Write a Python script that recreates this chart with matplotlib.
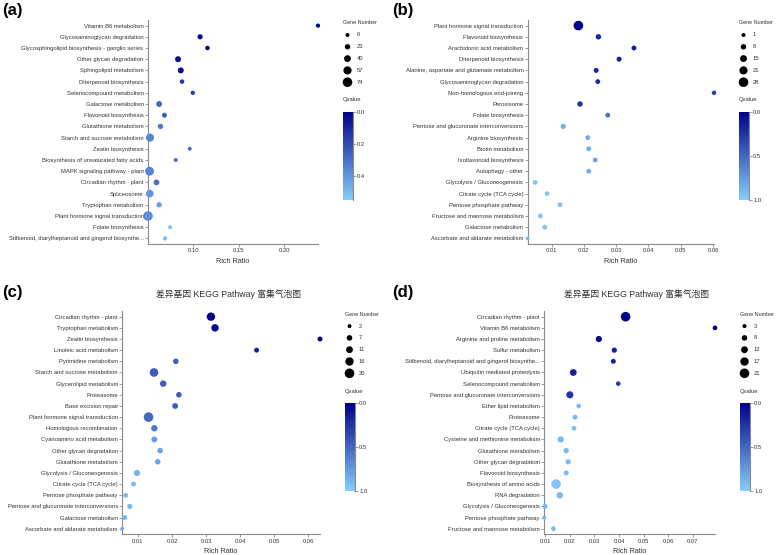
import numpy as np
import matplotlib
matplotlib.use("Agg")
from matplotlib import pyplot as plt
from matplotlib.colors import LinearSegmentedColormap, Normalize
from matplotlib.ticker import MultipleLocator, FormatStrFormatter

plt.rcParams['font.family'] = ['Liberation Sans', 'Noto Sans CJK SC', 'DejaVu Sans']

# ---------------- (a) ----------------
terms_a = ["Vitamin B6 metabolism", "Glycosaminoglycan degradation",
           "Glycosphingolipid biosynthesis - ganglio series", "Other glycan degradation",
           "Sphingolipid metabolism", "Diterpenoid biosynthesis", "Selenocompound metabolism",
           "Galactose metabolism", "Flavonoid biosynthesis", "Glutathione metabolism",
           "Starch and sucrose metabolism", "Zeatin biosynthesis",
           "Biosynthesis of unsaturated fatty acids", "MAPK signaling pathway - plant",
           "Circadian rhythm - plant", "Spliceosome", "Tryptophan metabolism",
           "Plant hormone signal transduction", "Folate biosynthesis",
           "Stilbenoid, diarylheptanoid and gingerol biosynthe..."]
rich_a = [0.237, 0.1075, 0.1156, 0.0833, 0.0863, 0.0877, 0.0995, 0.0625, 0.0683, 0.064,
          0.0525, 0.0962, 0.0808, 0.052, 0.0596, 0.0523, 0.0625, 0.0503, 0.0745, 0.069]
genes_a = [8, 20, 12, 30, 30, 12, 10, 30, 18, 22, 55, 6, 7, 65, 28, 50, 22, 74, 7, 10]
qval_a = [0.0, 0.02, 0.02, 0.03, 0.03, 0.15, 0.15, 0.28, 0.25, 0.32,
          0.35, 0.3, 0.3, 0.35, 0.3, 0.4, 0.42, 0.38, 0.52, 0.52]
legend_a = [6, 23, 40, 57, 74]

# ---------------- (b) ----------------
terms_b = ["Plant hormone signal transduction", "Flavonoid biosynthesis",
           "Arachidonic acid metabolism", "Diterpenoid biosynthesis",
           "Alanine, aspartate and glutamate metabolism", "Glycosaminoglycan degradation",
           "Non-homologous end-joining", "Peroxisome", "Folate biosynthesis",
           "Pentose and glucuronate interconversions", "Arginine biosynthesis",
           "Biotin metabolism", "Isoflavonoid biosynthesis", "Autophagy - other",
           "Glycolysis / Gluconeogenesis", "Citrate cycle (TCA cycle)",
           "Pentose phosphate pathway", "Fructose and mannose metabolism",
           "Galactose metabolism", "Ascorbate and aldarate metabolism"]
rich_b = [0.0183, 0.0245, 0.0355, 0.0309, 0.0238, 0.0243, 0.0603, 0.0188, 0.0274, 0.0136,
          0.0212, 0.0215, 0.0235, 0.0215, 0.0049, 0.0086, 0.0126, 0.0065, 0.0079, 0.0026]
genes_b = [28, 8, 5, 6, 6, 5, 3, 8, 5, 7, 5, 5, 5, 5, 5, 4, 5, 5, 5, 1]
qval_b = [0.0, 0.2, 0.15, 0.15, 0.2, 0.2, 0.3, 0.25, 0.55, 0.85,
          0.85, 0.85, 0.8, 0.85, 0.95, 0.95, 0.95, 0.95, 0.95, 0.9]
legend_b = [1, 8, 15, 21, 28]

# ---------------- (c) ----------------
terms_c = ["Circadian rhythm - plant", "Tryptophan metabolism", "Zeatin biosynthesis",
           "Linoleic acid metabolism", "Pyrimidine metabolism", "Starch and sucrose metabolism",
           "Glycerolipid metabolism", "Proteasome", "Base excision repair",
           "Plant hormone signal transduction", "Homologous recombination",
           "Cyanoamino acid metabolism", "Other glycan degradation", "Glutathione metabolism",
           "Glycolysis / Gluconeogenesis", "Citrate cycle (TCA cycle)",
           "Pentose phosphate pathway", "Pentose and glucuronate interconversions",
           "Galactose metabolism", "Ascorbate and aldarate metabolism"]
rich_c = [0.0314, 0.0326, 0.0634, 0.0448, 0.0211, 0.0147, 0.0174, 0.022, 0.0209, 0.0131,
          0.0148, 0.0148, 0.0165, 0.0158, 0.0097, 0.0087, 0.0064, 0.0076, 0.0061, 0.0054]
genes_c = [16, 13, 5, 5, 7, 17, 10, 7, 8, 20, 10, 8, 7, 7, 9, 5, 5, 6, 5, 2]
qval_c = [0.02, 0.03, 0.02, 0.15, 0.45, 0.45, 0.45, 0.45, 0.45, 0.5,
          0.6, 0.75, 0.8, 0.8, 0.85, 0.9, 0.9, 0.9, 0.9, 0.85]
legend_c = [2, 7, 11, 16, 20]

# ---------------- (d) ----------------
terms_d = ["Circadian rhythm - plant", "Vitamin B6 metabolism", "Arginine and proline metabolism",
           "Sulfur metabolism", "Stilbenoid, diarylheptanoid and gingerol biosynthe...",
           "Ubiquitin mediated proteolysis", "Selenocompound metabolism",
           "Pentose and glucuronate interconversions", "Ether lipid metabolism", "Proteasome",
           "Citrate cycle (TCA cycle)", "Cysteine and methionine metabolism",
           "Glutathione metabolism", "Other glycan degradation", "Flavonoid biosynthesis",
           "Biosynthesis of amino acids", "RNA degradation", "Glycolysis / Gluconeogenesis",
           "Pentose phosphate pathway", "Fructose and mannose metabolism"]
rich_d = [0.0427, 0.0791, 0.0318, 0.0381, 0.0377, 0.0214, 0.0397, 0.020, 0.0236, 0.0221,
          0.0217, 0.0163, 0.0185, 0.0193, 0.0185, 0.0144, 0.0159, 0.0099, 0.0096, 0.0133]
genes_d = [21, 5, 10, 7, 6, 12, 5, 13, 5, 6, 5, 10, 7, 7, 6, 21, 11, 7, 3, 5]
qval_d = [0.0, 0.0, 0.03, 0.15, 0.15, 0.15, 0.3, 0.25, 0.9, 0.9,
          0.9, 0.9, 0.9, 0.9, 0.9, 0.95, 0.9, 0.9, 0.9, 0.9]
legend_d = [3, 8, 12, 17, 21]

title_cd = "差异基因 KEGG Pathway 富集气泡图"

W, H = 777, 555
cmap = LinearSegmentedColormap.from_list("q", ["#00008b", "#87cefa"])
GRAY = "#8a8a8a"
TXT = "#333333"

fig = plt.figure(figsize=(W / 100, H / 100), dpi=100)


def sizes(vals, lo, hi):
    r = 2.0 + 2.8 * (np.asarray(vals, float) - lo) / (hi - lo)
    return (2 * r * 0.72) ** 2


def panel(px, terms, rich, genes, qval, leg, qmax, qticks, step, label, lx, title=None):
    left, top, right, bottom = px
    ax = fig.add_axes([left / W, 1 - bottom / H, (right - left) / W, (bottom - top) / H])
    y = np.arange(len(terms))
    ax.scatter(rich, y, s=sizes(genes, min(leg), max(leg)), c=qval, cmap=cmap,
               norm=Normalize(0, qmax), linewidths=0, zorder=3, clip_on=False)
    ax.set_xlim(min(rich), max(rich))
    ax.set_ylim(len(terms) - 0.5, -0.5)
    ax.set_yticks(y)
    ax.set_yticklabels(terms)
    ax.xaxis.set_major_locator(MultipleLocator(step))
    ax.xaxis.set_major_formatter(FormatStrFormatter('%.2f'))
    for s in ['top', 'right']:
        ax.spines[s].set_visible(False)
    for s in ['left', 'bottom']:
        ax.spines[s].set_color(GRAY)
        ax.spines[s].set_linewidth(0.8)
    ax.tick_params(length=2, width=0.6, color=GRAY, labelsize=4.2, labelcolor=TXT, pad=1.2)
    ax.set_xlabel("Rich Ratio", fontsize=5.2, color=TXT, labelpad=3)
    ax.patch.set_alpha(0)

    # size legend
    lgx = right + 25
    ly0 = top + 3
    fig.text(lgx / W, 1 - ly0 / H, "Gene Number", fontsize=3.9, color=TXT, va='center')
    ov.scatter([lgx + 4.5] * len(leg), [ly0 + 12 + 11.8 * i for i in range(len(leg))],
               s=sizes(leg, min(leg), max(leg)), color='black', linewidths=0)
    for i, v in enumerate(leg):
        fig.text((lgx + 14) / W, 1 - (ly0 + 12 + 11.8 * i) / H, str(v), fontsize=4.2,
                 color=TXT, va='center')

    # q-value colour bar
    fig.text(lgx / W, 1 - (ly0 + 77) / H, "Qvalue", fontsize=4.2, color=TXT, va='center')
    ctop, cbot = ly0 + 89, ly0 + 177
    cax = fig.add_axes([lgx / W, 1 - cbot / H, 10 / W, (cbot - ctop) / H])
    grad = np.linspace(0, qmax, 256).reshape(-1, 1)
    cax.imshow(grad, aspect='auto', cmap=cmap, norm=Normalize(0, qmax),
               extent=[0, 1, qmax, 0])
    cax.set_ylim(qmax, 0)
    cax.set_xticks([])
    cax.yaxis.tick_right()
    cax.set_yticks(qticks)
    cax.yaxis.set_major_formatter(FormatStrFormatter('%.1f'))
    for s in ['top', 'left', 'bottom']:
        cax.spines[s].set_visible(False)
    cax.spines['right'].set_color(GRAY)
    cax.spines['right'].set_linewidth(0.8)
    cax.tick_params(length=2, width=0.6, color=GRAY, labelsize=4.2, labelcolor=TXT, pad=1)

    fig.text(lx[0] / W, 1 - lx[1] / H, label, fontsize=12, fontweight='bold', va='center')
    if title:
        fig.text(((left + right) / 2 + 7) / W, 1 - (top - 17) / H, title, fontsize=6.3,
                 color=TXT, ha='center', va='center')
    return ax


ov = fig.add_axes([0, 0, 1, 1])
ov.set_xlim(0, W)
ov.set_ylim(H, 0)
ov.axis('off')

panel((148, 20, 318, 244), terms_a, rich_a, genes_a, qval_a, legend_a, 0.55,
      [0.0, 0.2, 0.4], 0.05, "(a)", (2, 10))
panel((527.7, 20, 714, 244), terms_b, rich_b, genes_b, qval_b, legend_b, 1.0,
      [0.0, 0.5, 1.0], 0.01, "(b)", (392, 10))
panel((122.3, 311.1, 320, 534.3), terms_c, rich_c, genes_c, qval_c, legend_c, 1.0,
      [0.0, 0.5, 1.0], 0.01, "(c)", (2, 293), title_cd)
panel((544.3, 311.1, 715, 534.3), terms_d, rich_d, genes_d, qval_d, legend_d, 1.0,
      [0.0, 0.5, 1.0], 0.01, "(d)", (392, 293), title_cd)

fig.savefig("out.png", dpi=100)
